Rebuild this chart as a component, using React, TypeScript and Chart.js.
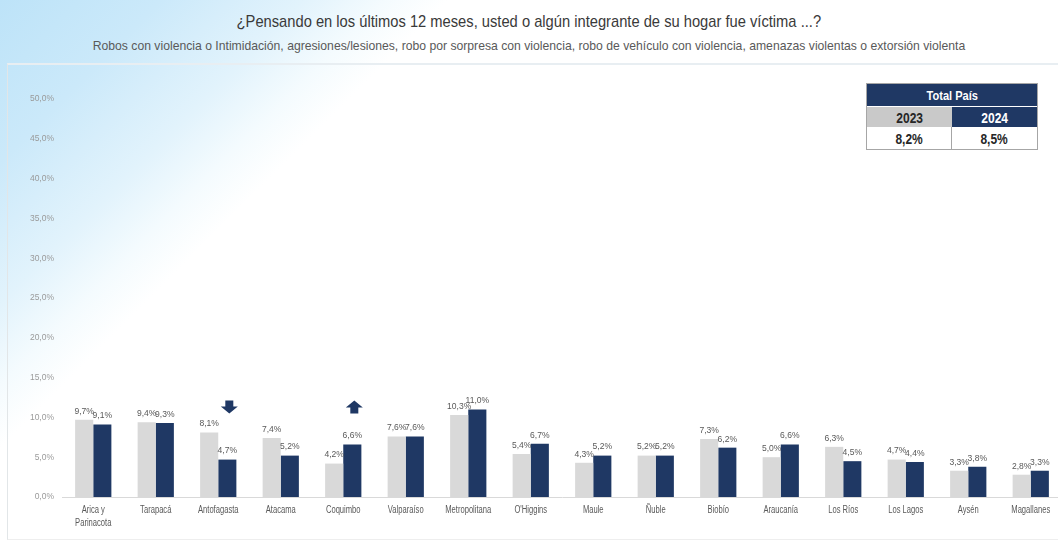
import React, { useEffect, useRef } from "react";
import { Chart, registerables } from "chart.js";

Chart.register(...registerables);

const categories: (string | string[])[] = [
  ["Arica y", "Parinacota"],
  "Tarapacá",
  "Antofagasta",
  "Atacama",
  "Coquimbo",
  "Valparaíso",
  "Metropolitana",
  "O'Higgins",
  "Maule",
  "Ñuble",
  "Biobío",
  "Araucanía",
  "Los Ríos",
  "Los Lagos",
  "Aysén",
  "Magallanes",
];

const values2023 = [9.7, 9.4, 8.1, 7.4, 4.2, 7.6, 10.3, 5.4, 4.3, 5.2, 7.3, 5.0, 6.3, 4.7, 3.3, 2.8];
const values2024 = [9.1, 9.3, 4.7, 5.2, 6.6, 7.6, 11.0, 6.7, 5.2, 5.2, 6.2, 6.6, 4.5, 4.4, 3.8, 3.3];

const seriesLabels = ["2023", "2024"];
const seriesColors = ["#d9d9d9", "#1f3864"];

const arrowIndices = [2, 4];
const arrowDirections = ["down", "up"];
const arrowLevel = 11.3;

const totalLabel = "Total País";
const totalYears = ["2023", "2024"];
const totalValues = ["8,2%", "8,5%"];

const titleText = "¿Pensando en los últimos 12 meses, usted o algún integrante de su hogar fue víctima ...?";
const subtitleText =
  "Robos con violencia o Intimidación, agresiones/lesiones, robo por sorpresa con violencia, robo de vehículo con violencia, amenazas violentas o extorsión violenta";

const fmt = (v: number) => v.toFixed(1).replace(".", ",") + "%";

const SANS = '"Liberation Sans", Arial, sans-serif';

const labelPlugin = {
  id: "valueLabels",
  afterDatasetsDraw(chart: any) {
    const ctx = chart.ctx;
    ctx.save();
    ctx.font = `9.5px ${SANS}`;
    ctx.fillStyle = "#595959";
    ctx.textAlign = "center";
    ctx.textBaseline = "bottom";
    chart.data.datasets.forEach((ds: any, di: number) => {
      const meta = chart.getDatasetMeta(di);
      meta.data.forEach((el: any, i: number) => {
        ctx.save();
        ctx.translate(el.x, el.y - 4);
        ctx.scale(0.9, 1);
        ctx.fillText(fmt(ds.data[i]), 0, 0);
        ctx.restore();
      });
    });
    ctx.restore();
  },
};

const xLabelPlugin = {
  id: "xLabels",
  afterDraw(chart: any) {
    const ctx = chart.ctx;
    const xS = chart.scales.x;
    const top = xS.top;
    ctx.save();
    ctx.font = `10px ${SANS}`;
    ctx.fillStyle = "#595959";
    ctx.textAlign = "center";
    ctx.textBaseline = "middle";
    (chart.data.labels as any[]).forEach((lab: any, i: number) => {
      const x = xS.getPixelForValue(i);
      const lines = Array.isArray(lab) ? lab : [lab];
      lines.forEach((ln: string, j: number) => {
        ctx.save();
        ctx.translate(x, top + 13 + j * 13);
        ctx.scale(0.76, 1);
        ctx.fillText(ln, 0, 0);
        ctx.restore();
      });
    });
    ctx.restore();
  },
};

const arrowPlugin = {
  id: "arrows",
  afterDatasetsDraw(chart: any) {
    const ctx = chart.ctx;
    const meta = chart.getDatasetMeta(1);
    const yS = chart.scales.y;
    ctx.save();
    ctx.fillStyle = "#1f3864";
    arrowIndices.forEach((idx, k) => {
      const el = meta.data[idx];
      const cx = el.x + 2;
      const cy = yS.getPixelForValue(arrowLevel);
      const h = 13;
      const headW = 17;
      const shaftW = 8;
      const headH = 7;
      const top = cy - h / 2;
      const bot = cy + h / 2;
      ctx.beginPath();
      if (arrowDirections[k] === "down") {
        ctx.moveTo(cx - shaftW / 2, top);
        ctx.lineTo(cx + shaftW / 2, top);
        ctx.lineTo(cx + shaftW / 2, bot - headH);
        ctx.lineTo(cx + headW / 2, bot - headH);
        ctx.lineTo(cx, bot);
        ctx.lineTo(cx - headW / 2, bot - headH);
        ctx.lineTo(cx - shaftW / 2, bot - headH);
      } else {
        ctx.moveTo(cx - shaftW / 2, bot);
        ctx.lineTo(cx + shaftW / 2, bot);
        ctx.lineTo(cx + shaftW / 2, top + headH);
        ctx.lineTo(cx + headW / 2, top + headH);
        ctx.lineTo(cx, top);
        ctx.lineTo(cx - headW / 2, top + headH);
        ctx.lineTo(cx - shaftW / 2, top + headH);
      }
      ctx.closePath();
      ctx.fill();
    });
    ctx.restore();
  },
};

export default function App() {
  const canvasRef = useRef<HTMLCanvasElement | null>(null);

  useEffect(() => {
    if (!canvasRef.current) return;
    const chart = new Chart(canvasRef.current, {
      type: "bar",
      data: {
        labels: categories,
        datasets: [
          {
            label: seriesLabels[0],
            data: values2023,
            backgroundColor: seriesColors[0],
            barPercentage: 1,
            categoryPercentage: 0.58,
          },
          {
            label: seriesLabels[1],
            data: values2024,
            backgroundColor: seriesColors[1],
            barPercentage: 1,
            categoryPercentage: 0.58,
          },
        ],
      },
      options: {
        animation: false,
        responsive: false,
        maintainAspectRatio: false,
        layout: { padding: { top: 99, bottom: 6, left: 0, right: 0 } },
        plugins: {
          legend: { display: false },
          tooltip: { enabled: false },
          title: { display: false },
        },
        scales: {
          x: {
            grid: { display: false },
            border: { display: true, color: "#d9d9d9" },
            ticks: { display: false },
            afterFit: (s: any) => {
              s.height = 40;
            },
          },
          y: {
            min: 0,
            max: 50,
            grid: { display: false },
            border: { display: false },
            ticks: {
              stepSize: 5,
              color: "#9a9a9a",
              font: { family: SANS, size: 8.5 },
              padding: 0,
              callback: (v: any) => fmt(Number(v)),
            },
            afterFit: (s: any) => {
              s.width = 62;
            },
          },
        },
      },
      plugins: [labelPlugin, arrowPlugin, xLabelPlugin],
    });
    return () => chart.destroy();
  }, []);

  const cellBase: React.CSSProperties = {
    position: "absolute",
    display: "flex",
    alignItems: "center",
    justifyContent: "center",
    fontFamily: SANS,
    fontWeight: "bold",
    boxSizing: "border-box",
  };
  const narrowText = (s: string, sx: number) => (
    <span style={{ display: "inline-block", transform: `scaleX(${sx})` }}>{s}</span>
  );

  return (
    <div
      style={{
        position: "absolute",
        left: 0,
        top: 0,
        width: 1058,
        height: 543,
        overflow: "hidden",
        background:
          "linear-gradient(135deg, #bde3f8 0%, #cbe9fa 10%, #e2f3fc 19%, #f4fbfe 24%, rgba(255,255,255,0) 28%), #ffffff",
      }}
    >
      <div
        style={{
          position: "absolute",
          left: 7,
          top: 63,
          width: 1060,
          height: 477,
          borderTop: "2px solid #e8eef2",
          borderLeft: "1px solid #e2e6e8",
          borderBottom: "1px solid #eeeeee",
          boxSizing: "border-box",
        }}
      />
      <div
        style={{
          position: "absolute",
          left: 0,
          top: 11,
          width: 1058,
          textAlign: "center",
          fontFamily: SANS,
          fontSize: 17,
          color: "#3a3a3a",
          lineHeight: "22px",
          whiteSpace: "nowrap",
        }}
      >
        {narrowText(titleText, 0.865)}
      </div>
      <div
        style={{
          position: "absolute",
          left: 0,
          top: 39,
          width: 1058,
          textAlign: "center",
          fontFamily: SANS,
          fontSize: 12.2,
          color: "#595959",
          lineHeight: "14px",
          whiteSpace: "nowrap",
        }}
      >
        {subtitleText}
      </div>
      <canvas
        ref={canvasRef}
        width={1062}
        height={543}
        style={{ position: "absolute", left: 0, top: 0, width: 1062, height: 543 }}
      />
      <div
        style={{
          position: "absolute",
          left: 866,
          top: 83,
          width: 172,
          height: 67,
          border: "1px solid #a6a6a6",
          boxSizing: "border-box",
          background: "#ffffff",
        }}
      >
        <div
          style={{
            ...cellBase,
            left: 0,
            top: 0,
            width: 170,
            height: 22,
            background: "#1f3864",
            color: "#ffffff",
            fontSize: 13,
          }}
        >
          {narrowText(totalLabel, 0.85)}
        </div>
        <div
          style={{
            ...cellBase,
            left: 0,
            top: 23,
            width: 85,
            height: 20,
            background: "#c9c9c9",
            color: "#262626",
            fontSize: 15,
          }}
        >
          {narrowText(totalYears[0], 0.8)}
        </div>
        <div
          style={{
            ...cellBase,
            left: 85,
            top: 23,
            width: 85,
            height: 20,
            background: "#1f3864",
            color: "#ffffff",
            fontSize: 15,
          }}
        >
          {narrowText(totalYears[1], 0.8)}
        </div>
        <div
          style={{
            ...cellBase,
            left: 0,
            top: 43,
            width: 85,
            height: 22,
            color: "#262626",
            fontSize: 15,
            borderRight: "1px solid #a6a6a6",
          }}
        >
          {narrowText(totalValues[0], 0.8)}
        </div>
        <div
          style={{
            ...cellBase,
            left: 85,
            top: 43,
            width: 85,
            height: 22,
            color: "#262626",
            fontSize: 15,
          }}
        >
          {narrowText(totalValues[1], 0.8)}
        </div>
      </div>
    </div>
  );
}
